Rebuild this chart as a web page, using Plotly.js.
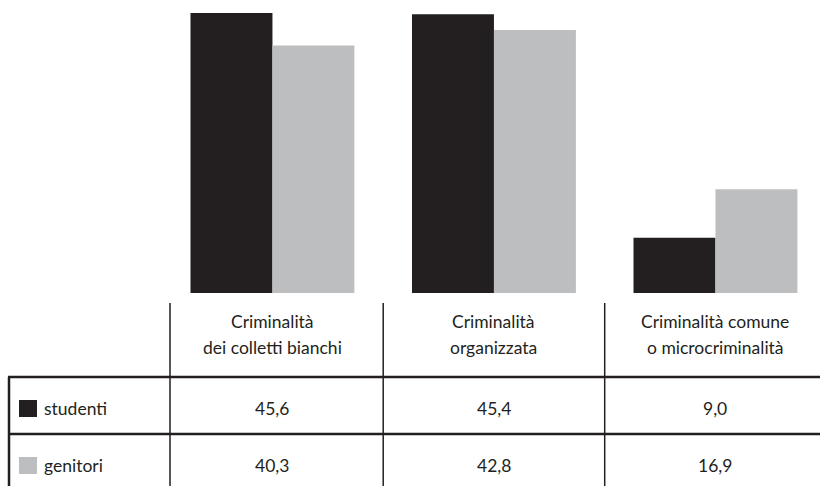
<!DOCTYPE html>
<html>
<head>
<meta charset="utf-8">
<script src="https://cdn.plot.ly/plotly-3.0.1.min.js"></script>
<style>html,body{margin:0;padding:0;background:#fff;}#chart{width:820px;height:486px;}</style>
</head>
<body>
<div id="chart"></div>
<script>
const categories = ["Criminalità<br>dei colletti bianchi", "Criminalità<br>organizzata", "Criminalità comune<br>o microcriminalità"];
const seriesNames = ["studenti", "genitori"];
const studenti = [45.6, 45.4, 9.0];
const genitori = [40.3, 42.8, 16.9];
const seriesValues = [studenti, genitori];
const seriesColors = ["#231f20", "#bcbec0"];

const W = 820, H = 486;
const py = p => 1 - p / H;   // pixel row -> paper y
const px = p => p / W;       // pixel col -> paper x
const FONT = "Lato, 'Open Sans', sans-serif";
const FS = 17.5;
const TXT = "#231f20";
const fmt = v => v.toFixed(1).replace('.', ',');

const traces = seriesNames.map((n, i) => ({
  type: 'bar', name: n, x: categories, y: seriesValues[i],
  marker: {color: seriesColors[i], line: {width: 0}},
  hoverinfo: 'none'
}));

const shapes = [];
const annotations = [];
const lineCol = "#231f20";
// header vertical separators
shapes.push({type:'line', xref:'paper', yref:'paper', x0:px(170), x1:px(170), y0:py(303), y1:py(486), line:{color:lineCol, width:1.5}});
for (let i = 0; i < categories.length - 1; i++) {
  shapes.push({type:'line', xref:'x', yref:'paper', x0:i+0.5, x1:i+0.5, y0:py(303), y1:py(486), line:{color:lineCol, width:1.5}});
}
// row lines and left frame
const rowTops = [377, 434];
rowTops.forEach(r => shapes.push({type:'line', xref:'paper', yref:'paper', x0:px(8), x1:1, y0:py(r), y1:py(r), line:{color:lineCol, width:2.5}}));
shapes.push({type:'line', xref:'paper', yref:'paper', x0:px(9), x1:px(9), y0:py(377), y1:py(486), line:{color:lineCol, width:2.5}});

// header labels, one annotation per line
const headerLines = [321, 347];
categories.forEach(c => c.split('<br>').forEach((ln, k) => annotations.push({xref:'x', yref:'paper', x:c, y:py(headerLines[k]), text:ln, showarrow:false,
  font:{family:FONT, size:FS, color:TXT}, align:'center', xanchor:'center', yanchor:'middle'})));

// rows
const rowCenters = [408, 465];
seriesNames.forEach((n, i) => {
  const yc = rowCenters[i];
  shapes.push({type:'rect', xref:'paper', yref:'paper', x0:px(19), x1:px(37), y0:py(yc-8), y1:py(yc+9),
    fillcolor:seriesColors[i], line:{width:0}});
  annotations.push({xref:'paper', yref:'paper', x:px(42), y:py(yc), text:n, showarrow:false,
    font:{family:FONT, size:FS, color:TXT}, xanchor:'left', yanchor:'middle'});
  seriesValues[i].forEach((v, j) => annotations.push({xref:'x', yref:'paper', x:categories[j], y:py(yc), text:fmt(v),
    showarrow:false, font:{family:FONT, size:FS, color:TXT}, xanchor:'center', yanchor:'middle'}));
});

const layout = {
  width: W, height: H,
  margin: {l:0, r:0, t:0, b:0, pad:0},
  paper_bgcolor:'#ffffff', plot_bgcolor:'#ffffff',
  showlegend:false,
  barmode:'group', bargap:0.26, bargroupgap:0,
  xaxis: {type:'category', range:[-1.230, 2.472], showticklabels:false, showgrid:false, zeroline:false, showline:false, ticks:''},
  yaxis: {domain:[1-293/H, 1], range:[0, 47.7], showticklabels:false, showgrid:false, zeroline:false, showline:false, ticks:''},
  shapes, annotations
};
Plotly.newPlot('chart', traces, layout, {staticPlot:true, displayModeBar:false});
</script>
</body>
</html>
